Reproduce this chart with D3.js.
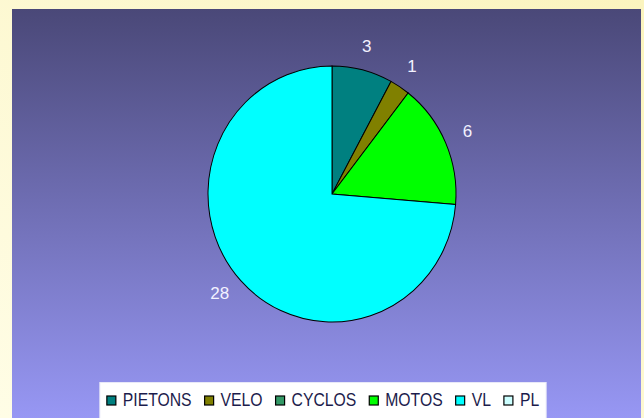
<!DOCTYPE html>
<html><head><meta charset="utf-8">
<script src="https://cdn.jsdelivr.net/npm/d3@7"></script>
<style>html,body{margin:0;padding:0;overflow:hidden;}</style>
</head><body>
<svg id="chart" width="644" height="418"></svg>
<script>
const categories = ["PIETONS", "VELO", "CYCLOS", "MOTOS", "VL", "PL"];
const values = [3, 1, 0, 6, 28, 0];
const colors = ["#008080", "#808000", "#339966", "#00ff00", "#00ffff", "#ccffff"];

const svg = d3.select("#chart");
const W = 644, H = 418;
const defs = svg.append("defs");
const og = defs.append("linearGradient").attr("id","outer").attr("x1","1").attr("y1","0").attr("x2","0").attr("y2","1");
og.append("stop").attr("offset","0").attr("stop-color","#fbf4be");
og.append("stop").attr("offset","1").attr("stop-color","#fffde6");
const pg = defs.append("linearGradient").attr("id","plot").attr("x1","0").attr("y1","0").attr("x2","0").attr("y2","1");
pg.append("stop").attr("offset","0").attr("stop-color","#4a4878");
pg.append("stop").attr("offset","1").attr("stop-color","#9797f4");

svg.append("rect").attr("width",W).attr("height",H).attr("fill","url(#outer)");
const plot = {x:12, y:9, w:629, h:409};
svg.append("rect").attr("x",plot.x).attr("y",plot.y).attr("width",plot.w).attr("height",plot.h).attr("fill","url(#plot)");

const cx = 332, cy = 194, r = 126, labelR = 150;
const sx = 124/126, sy = 128/126;
const data = categories.map((c,i)=>({name:c, value:values[i], color:colors[i]}));
const pie = d3.pie().sort(null).value(d=>d.value);
const arcs = pie(data);
const arc = d3.arc().innerRadius(0).outerRadius(r);
const labelArc = d3.arc().innerRadius(labelR).outerRadius(labelR);
const g = svg.append("g").attr("transform",`translate(${cx},${cy}) scale(${sx},${sy})`);
g.selectAll("path").data(arcs.filter(a=>a.data.value>0)).join("path")
  .attr("d",arc).attr("fill",d=>d.data.color).attr("stroke","#000").attr("stroke-width",1);
svg.append("g").attr("transform",`translate(${cx},${cy})`)
  .selectAll("text").data(arcs.filter(a=>a.data.value>0)).join("text")
  .attr("transform",d=>{const c=labelArc.centroid(d); return `translate(${c[0]-2},${c[1]-2})`;})
  .attr("text-anchor","middle").attr("dominant-baseline","central")
  .attr("font-family","Liberation Sans, Arial, sans-serif").attr("font-size",17)
  .attr("fill","#f2f2ff").text(d=>d.data.value);

// legend
const lg = svg.append("g");
const box = lg.append("rect").attr("fill","#ffffff").attr("stroke","#e8e8f8");
const items = lg.selectAll("g.item").data(data).join("g").attr("class","item");
const tScale = 0.9;
items.append("rect").attr("width",9).attr("height",9).attr("y",-10)
  .attr("fill",d=>d.color).attr("stroke","#000").attr("stroke-width",1.2);
items.append("text").attr("transform",`translate(16,0) scale(${tScale},1)`)
  .attr("font-family","Liberation Sans, Arial, sans-serif").attr("font-size",17.5)
  .attr("fill","#1c1c4c").text(d=>d.name);
let x = 0;
const offs = [];
items.each(function(){
  const t = d3.select(this).select("text").node().getComputedTextLength()*tScale;
  offs.push(x);
  x += 16 + t + 13;
});
const totalW = x - 13;
const legendCx = 323, baseY = 406;
const lx = legendCx - totalW/2;
items.attr("transform",(d,i)=>`translate(${lx+offs[i]},${baseY})`);
box.attr("x",lx-7).attr("y",382.5).attr("width",totalW+14).attr("height",40);
</script>
</body></html>
